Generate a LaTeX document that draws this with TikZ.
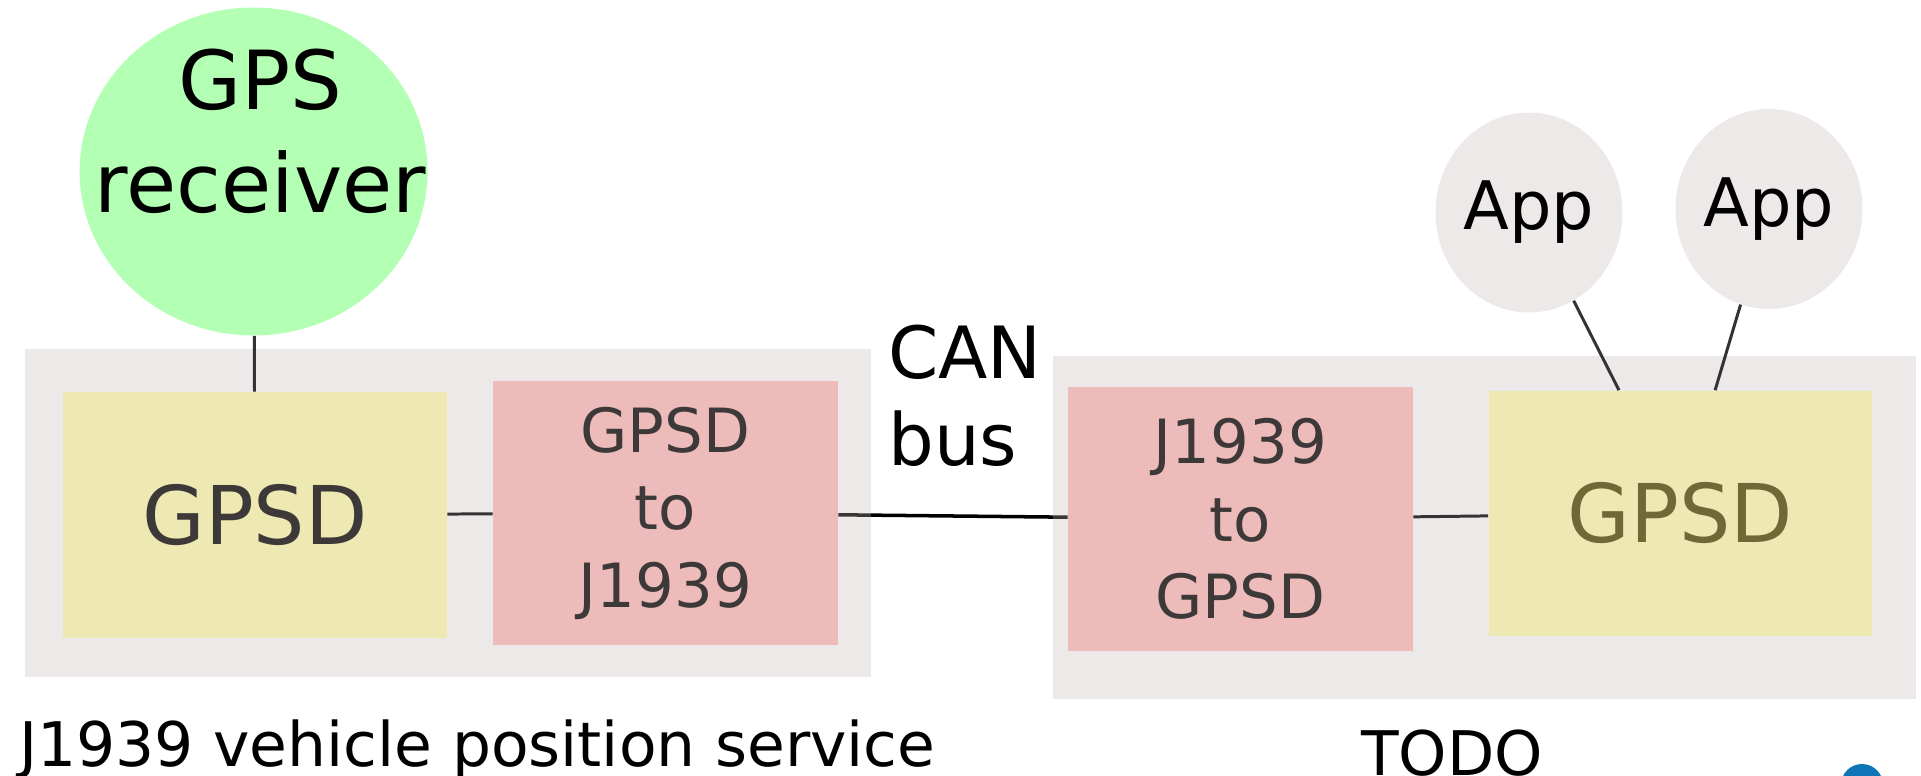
\documentclass[tikz,border=0pt]{standalone}
\usepackage{fontspec}
\setmainfont{DejaVu Sans}
\usetikzlibrary{positioning,shapes.geometric,calc,backgrounds}
\definecolor{gpsgreen}{HTML}{B3FFB3}
\definecolor{groupgray}{HTML}{C3B6B2}
\definecolor{appgray}{HTML}{EDE9E8}
\definecolor{gpsdyellow}{HTML}{EEE8B3}
\definecolor{bridgepink}{HTML}{EEBBBB}
\definecolor{boxtext}{HTML}{3D3939}
\definecolor{olivetext}{HTML}{6E6936}
\definecolor{linkgray}{HTML}{333333}
\definecolor{cornerblue}{HTML}{0F75B6}

\begin{document}
\begin{tikzpicture}[x=0.02cm,y=-0.02cm,
    gpsd/.style={rectangle,fill=gpsdyellow,inner sep=0pt,minimum width=7.68cm,minimum height=4.92cm,font=\fontsize{46.1pt}{55pt}\selectfont},
    bridge/.style={rectangle,fill=bridgepink,inner sep=0pt,minimum width=6.9cm,minimum height=5.28cm,align=center,text=boxtext,font=\fontsize{34.7pt}{44.1pt}\selectfont},
    app/.style={ellipse,fill=appgray,inner sep=0pt,minimum width=3.74cm,minimum height=4cm,font=\fontsize{38.1pt}{45pt}\selectfont},
    link/.style={draw=linkgray,line width=1.7pt},
    canlink/.style={draw=black,line width=2pt},
    group/.style={fill=groupgray,fill opacity=0.3},
    caption/.style={inner sep=0pt,font=\fontsize{35pt}{42pt}\selectfont}]
    \useasboundingbox (0,0) rectangle (1921,776);
    % receiver and the two services
    \node[ellipse,fill=gpsgreen,inner sep=0pt,minimum width=6.96cm,minimum height=6.56cm,
          label={[align=center,font=\fontsize{46.4pt}{58.6pt}\selectfont,xshift=4pt,yshift=23pt]center:{GPS\\receiver}}] (gps) at (253.6,171.5) {};
    \node[gpsd,text=boxtext] (gpsdL) at (255,515) {GPSD};
    \node[bridge] (toJ) at (665.5,513) {GPSD\\to\\J1939};
    \node[bridge] (toG) at (1240.5,519) {J1939\\to\\GPSD};
    \node[gpsd,text=olivetext] (gpsdR) at (1680.5,513.5) {GPSD};
    \node[app] (app1) at (1529,212.5) {App};
    \node[app] (app2) at (1769,209) {App};
    \node[caption,anchor=north west,align=left,font=\fontsize{41pt}{49.5pt}\selectfont] (can) at (888,325) {CAN\\bus};
    \node[caption,anchor=base west] (leftname) at (19,766) {J1939 vehicle position service};
    \node[caption,anchor=base] (rightname) at (1452,775) {TODO};
    \fill[cornerblue] (1862,785) circle (21);
    % connectors
    \draw[link] (gps) -- (gpsdL);
    \draw[link] (gpsdL) -- (toJ);
    \draw[link] (toG) -- (gpsdR);
    \draw[link] (app1) -- ($(gpsdR.north west)!0.34!(gpsdR.north east)$);
    \draw[link] (app2) -- ($(gpsdR.north west)!0.59!(gpsdR.north east)$);
    \begin{scope}[on background layer]
        \draw[canlink] (toJ) -- (toG);
        \fill[group] (24.5,349) rectangle (870.5,677);
        \fill[group] (1052.5,356.5) rectangle (1916,699);
    \end{scope}
\end{tikzpicture}
\end{document}
